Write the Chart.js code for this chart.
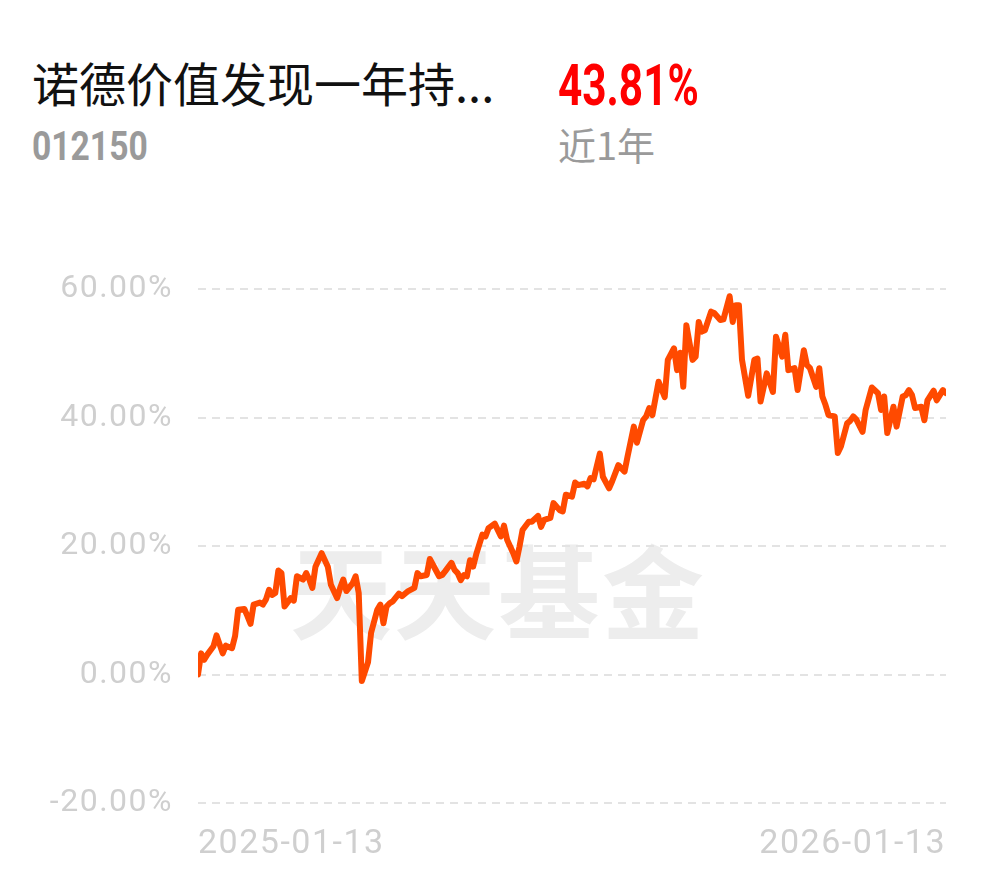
<!DOCTYPE html>
<html>
<head>
<meta charset="utf-8">
<script src="https://cdn.jsdelivr.net/npm/chart.js@4"></script>
<style>
  html, body { margin: 0; padding: 0; background: #fff; }
  body { width: 990px; height: 878px; position: relative; overflow: hidden; }
  .t { position: absolute; white-space: nowrap; line-height: 1; }
  #name { left: 32px; top: 47px; font: 47px "Noto Sans CJK SC", sans-serif; color: #111; }
  #ret { left: 558px; top: 51px; font: bold 58px Roboto, sans-serif; color: #f00; transform: scaleX(0.73); transform-origin: left top; }
  #code { left: 32px; top: 122px; font: bold 41px Roboto, sans-serif; color: #9a9a9a; transform: scaleX(0.82); transform-origin: left top; }
  #period { left: 558px; top: 116px; font: 38px "Noto Sans CJK SC", sans-serif; color: #9a9a9a; }
  #mark { left: 290px; top: 514px; font: bold 102px "Noto Sans CJK SC", sans-serif; color: #ededed; letter-spacing: 2px; }
  #wrap { position: absolute; left: 0; top: 245px; width: 990px; height: 633px; }
</style>
</head>
<body>
<div class="t" id="name">诺德价值发现一年持...</div>
<div class="t" id="ret">43.81%</div>
<div class="t" id="code">012150</div>
<div class="t" id="period">近1年</div>
<div class="t" id="mark">天天基金</div>
<div id="wrap"><canvas id="chart"></canvas></div>
<script>
// trading-day index since 2025-01-13
const days = [
  0, 1, 2, 3, 5, 6, 8, 9, 11, 12, 13, 15, 16, 17, 18, 20, 21, 22, 23, 24,
  25, 26, 27, 28, 30, 31, 32, 34, 35, 36, 37, 38, 40, 42, 43, 45, 46, 47, 48, 50,
  51, 52, 53, 55, 56, 58, 59, 60, 61, 62, 63, 65, 66, 68, 70, 71, 72, 74, 75, 76,
  78, 79, 80, 82, 83, 84, 85, 86, 87, 88, 89, 90, 92, 93, 94, 96, 98, 99, 100, 102,
  103, 104, 105, 107, 108, 110, 111, 112, 114, 115, 117, 118, 119, 121, 122, 123, 125, 126, 127, 128,
  130, 131, 133, 134, 136, 138, 139, 141, 142, 144, 145, 146, 147, 149, 151, 152, 154, 155, 156, 157,
  158, 160, 161, 162, 163, 164, 166, 167, 169, 170, 172, 173, 174, 175, 176, 178, 180, 181, 182, 184,
  186, 187, 189, 190, 191, 193, 194, 196, 197, 198, 200, 201, 202, 203, 204, 206, 207, 208, 210, 211,
  212, 213, 215, 216, 218, 220, 221, 222, 223, 225, 226, 228, 229, 230, 231, 232, 234, 235, 236, 238,
  239, 240, 241, 242
];

// cumulative return, %
const returns = [
  0.0, 3.3, 2.3, 3.1, 4.4, 6.1, 3.3, 4.5, 4.1, 6.0, 10.1, 10.2, 9.1, 7.9, 10.9, 11.2, 10.9, 11.7, 13.2, 12.4,
  12.7, 16.2, 15.8, 10.6, 11.9, 11.5, 15.3, 14.8, 15.8, 14.8, 13.5, 16.8, 18.9, 16.8, 14.0, 11.9, 13.5, 14.8, 13.0, 14.2,
  15.3, 12.7, -1.0, 1.9, 6.5, 10.1, 10.9, 8.0, 10.6, 11.1, 11.4, 12.6, 12.2, 13.0, 13.5, 15.8, 15.3, 15.5, 18.0, 17.1,
  15.3, 15.5, 16.1, 17.4, 16.3, 15.8, 14.7, 15.5, 15.3, 17.8, 16.8, 18.7, 21.8, 21.5, 22.8, 23.5, 21.5, 23.2, 21.0, 18.9,
  17.6, 19.9, 22.5, 23.8, 23.8, 24.7, 23.0, 24.1, 24.4, 26.7, 25.6, 25.4, 28.0, 27.7, 29.9, 29.5, 29.7, 29.3, 30.6, 30.4,
  34.4, 30.8, 29.0, 30.1, 32.6, 31.6, 34.0, 38.6, 36.1, 39.6, 40.2, 41.5, 40.4, 45.6, 43.2, 49.0, 50.8, 47.4, 50.1, 44.8,
  54.4, 49.0, 49.5, 54.9, 53.4, 53.6, 56.5, 56.3, 55.2, 55.3, 58.9, 54.9, 57.5, 57.5, 49.0, 43.4, 49.0, 49.2, 42.5, 46.9,
  44.0, 52.6, 49.5, 52.9, 47.4, 47.7, 44.3, 50.5, 48.2, 47.7, 44.8, 47.7, 43.3, 42.0, 40.4, 40.2, 34.5, 35.5, 39.1, 39.5,
  40.2, 39.7, 37.8, 41.2, 44.7, 43.8, 41.2, 43.3, 37.6, 41.7, 38.6, 43.3, 43.5, 44.3, 43.5, 41.5, 41.7, 39.6, 42.7, 44.2,
  42.7, 43.5, 44.3, 43.81
];

const tickLabels = ["2025-01-13", "2026-01-13"];
const lastDay = 242;
const yTicks = [-20, 0, 20, 40, 60];

const labelColor = "#cfcfcf";

// the app's axis font is a bit more spaced out than Roboto
const spacing = {
  id: "spacing",
  beforeDraw: (chart) => { chart.ctx.letterSpacing = "1.5px"; },
  afterDraw: (chart) => { chart.ctx.letterSpacing = "0px"; }
};

new Chart(document.getElementById("chart"), {
  type: "line",
  data: {
    datasets: [{
      data: days.map((d, i) => ({ x: d, y: returns[i] })),
      borderColor: "#ff4a00",
      borderWidth: 6,
      pointRadius: 0,
      tension: 0,
      borderJoinStyle: "round",
      borderCapStyle: "round"
    }]
  },
  options: {
    responsive: true,
    maintainAspectRatio: false,
    animation: false,
    layout: { padding: { top: 0, right: 44, left: 0, bottom: 0 } },
    plugins: { legend: { display: false }, tooltip: { enabled: false } },
    scales: {
      x: {
        type: "linear",
        min: 0,
        max: lastDay,
        afterBuildTicks: (s) => { s.ticks = [{ value: 0 }, { value: lastDay }]; },
        afterFit: (s) => { s.height = 75; },
        grid: { display: false },
        border: { display: false },
        ticks: {
          align: "inner",
          maxRotation: 0,
          padding: 13,
          color: labelColor,
          font: { family: "Roboto", size: 34 },
          callback: (v) => (v === 0 ? tickLabels[0] : tickLabels[1])
        }
      },
      y: {
        min: -20,
        max: 60,
        afterBuildTicks: (s) => { s.ticks = yTicks.map(v => ({ value: v })); },
        afterFit: (s) => { s.width = 198; },
        grid: { color: "#e3e3e3", lineWidth: 2, drawTicks: false },
        border: { display: false, dash: [8, 6] },
        ticks: {
          padding: 25,
          color: labelColor,
          font: { family: "Roboto", size: 32 },
          callback: (v) => v.toFixed(2) + "%"
        }
      }
    }
  },
  plugins: [spacing]
});
</script>
</body>
</html>
